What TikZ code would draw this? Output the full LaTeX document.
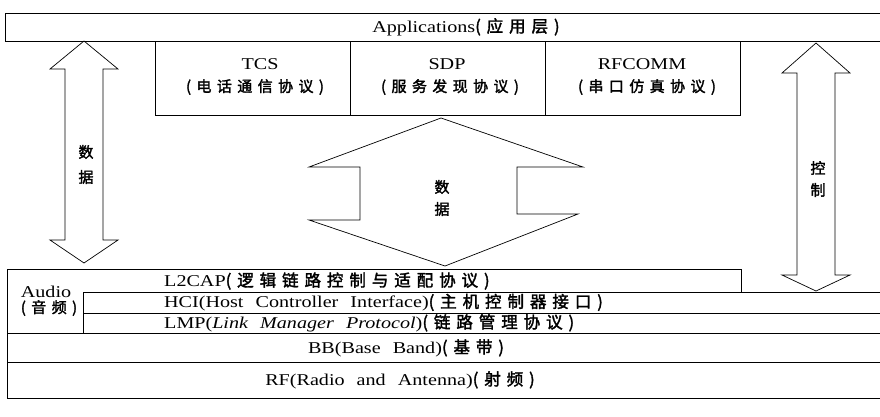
\documentclass[tikz,border=0pt]{standalone}
\usepackage{fontspec}
\setmainfont{Liberation Serif}[FakeStretch=1.22, WordSpace=2.4]
\newfontfamily\cjk[FakeBold=2,LetterSpace=36]{Noto Sans CJK SC}
\newcommand\zh[1]{{\cjk #1}}
\tikzset{
  lbl/.style={inner sep=0pt, font=\fontsize{16.5}{18}\selectfont},
  zlbl/.style={inner sep=0pt, font=\fontsize{15}{17}\selectfont},
  frame/.style={line width=0.8pt, line join=miter},
  bigarrow/.style={line width=0.7pt, line join=miter}
}
\begin{document}
\begin{tikzpicture}[x=1pt,y=-1pt]
\useasboundingbox (0,0) rectangle (880,416);
% Applications
\draw[frame] (880,13) -- (5,13) -- (5,41) -- (880,41);
% upper protocol boxes
\draw[frame] (155,41) -- (155,115) -- (740,115) -- (740,41);
\draw[frame] (350,41) -- (350,115);
\draw[frame] (545,41) -- (545,115);
% lower stack
\draw[frame] (7,398) -- (7,269) -- (741,269) -- (741,292);
\draw[frame] (83,292) -- (880,292);
\draw[frame] (83,313) -- (880,313);
\draw[frame] (83,292) -- (83,333);
\draw[frame] (7,333) -- (880,333);
\draw[frame] (7,362) -- (880,362);
\draw[frame] (7,398) -- (880,398);
% left double arrow
\draw[bigarrow] (84,41) -- (118,69) -- (103,69) -- (103,240) -- (118,240) -- (84,263)
  -- (50,240) -- (65,240) -- (65,69) -- (50,69) -- cycle;
% right double arrow
\draw[bigarrow] (816,43) -- (850,73) -- (835,73) -- (835,275) -- (850,275) -- (816,291)
  -- (782,275) -- (797,275) -- (797,73) -- (782,73) -- cycle;
% middle double arrow
\draw[bigarrow] (441,118) -- (583,167) -- (517,167) -- (517,214) -- (578,214) -- (445,266)
  -- (309,220) -- (360,220) -- (360,167) -- (309,167) -- cycle;
% texts
\node[lbl] (app) at (466,27) {Applications\zh{(应用层)}};
\node[lbl] (tcs) at (260,64) {TCS};
\node[zlbl] (tcsz) at (255,87) {\zh{(电话通信协议)}};
\node[lbl] (sdp) at (447,64) {SDP};
\node[zlbl] (sdpz) at (450,87) {\zh{(服务发现协议)}};
\node[lbl] (rfc) at (642,64) {RFCOMM};
\node[zlbl] (rfcz) at (647,87) {\zh{(串口仿真协议)}};
\node[zlbl] (d1) at (86,152) {\zh{数}};
\node[zlbl] (d2) at (86,177) {\zh{据}};
\node[zlbl] (m1) at (442,187) {\zh{数}};
\node[zlbl] (m2) at (442,209) {\zh{据}};
\node[zlbl] (k1) at (818,168) {\zh{控}};
\node[zlbl] (k2) at (818,190) {\zh{制}};
\node[lbl] (aud) at (46,292) {Audio};
\node[zlbl] (audz) at (49,308) {\zh{(音频)}};
\node[lbl, anchor=west] (l2) at (164,281) {L2CAP\zh{(逻辑链路控制与适配协议)}};
\node[lbl, anchor=west] (hci) at (164,302.5) {HCI(Host Controller Interface)\zh{(主机控制器接口)}};
\node[lbl, anchor=west] (lmp) at (164,323) {LMP(\textit{Link Manager Protocol})\zh{(链路管理协议)}};
\node[lbl] (bb) at (406,348) {BB(Base Band)\zh{(基带)}};
\node[lbl] (rf) at (400,380) {RF(Radio and Antenna)\zh{(射频)}};
\end{tikzpicture}
\end{document}
